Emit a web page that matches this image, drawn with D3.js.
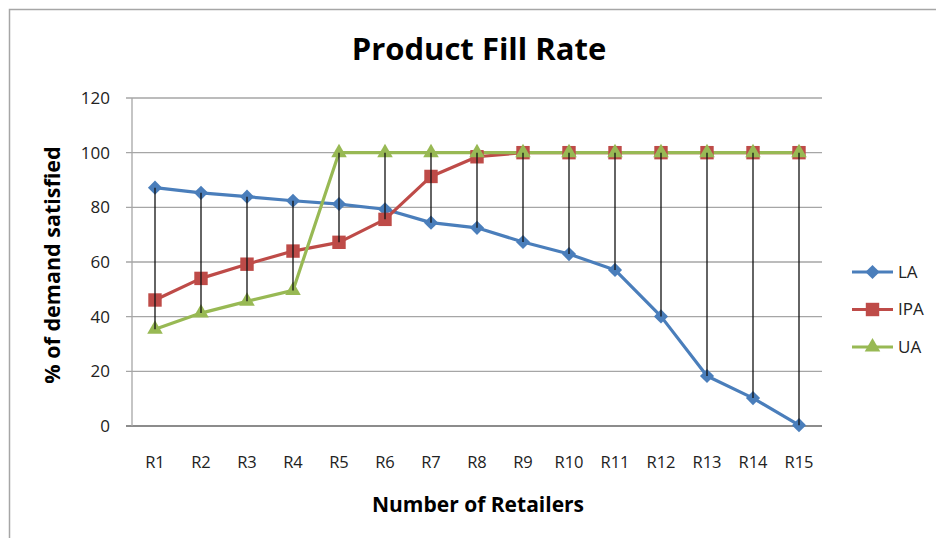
<!DOCTYPE html>
<html>
<head>
<meta charset="utf-8">
<script src="https://cdn.jsdelivr.net/npm/d3@7"></script>
<style>
  body { margin: 0; background: #fff; }
  svg { display: block; font-family: "Open Sans", Lato, sans-serif; }
</style>
</head>
<body>
<div id="chart"></div>
<script>
// data
const retailers = ['R1', 'R2', 'R3', 'R4', 'R5', 'R6', 'R7', 'R8', 'R9', 'R10', 'R11', 'R12', 'R13', 'R14', 'R15'];
const laValues = [87.2, 85.3, 83.9, 82.4, 81.2, 79.3, 74.4, 72.5, 67.3, 62.9, 57.1, 40.1, 18.3, 10.2, 0.3];
const ipaValues = [46.1, 54, 59.2, 64, 67.2, 75.6, 91.3, 98.5, 100, 100, 100, 100, 100, 100, 100];
const uaValues = [35.4, 41.3, 45.6, 49.6, 100, 100, 100, 100, 100, 100, 100, 100, 100, 100, 100];
const yTicks = [0, 20, 40, 60, 80, 100, 120];

const series = [
  { name: 'LA', values: laValues, color: '#4a7ebb', marker: d3.symbolSquare, size: 100, rot: 45 },
  { name: 'IPA', values: ipaValues, color: '#be4b48', marker: d3.symbolSquare, size: 180, rot: 0 },
  { name: 'UA', values: uaValues, color: '#98b954', marker: d3.symbolTriangle, size: 105, rot: 0 }
];

const W = 936, H = 538;
const margin = { top: 98, right: 114, bottom: 112, left: 132 };
const width = W - margin.left - margin.right;
const height = H - margin.top - margin.bottom;

const svg = d3.select('#chart')
  .append('svg')
    .attr('width', W)
    .attr('height', H);

// chart frame (runs off the right and bottom edge)
svg.append('rect')
  .attr('x', 9.5).attr('y', 9.5)
  .attr('width', W + 20).attr('height', H + 20)
  .attr('fill', 'none')
  .attr('stroke', '#a6a6a6')
  .attr('stroke-width', 1.5);

const g = svg.append('g')
  .attr('transform', `translate(${margin.left},${margin.top})`);

const x = d3.scaleBand()
  .domain(retailers)
  .range([0, width]);

const y = d3.scaleLinear()
  .domain([0, 120])
  .range([height, 0]);

const cx = d => x(d) + x.bandwidth() / 2;

// gridlines
g.append('g')
  .selectAll('line')
  .data(yTicks)
  .join('line')
    .attr('x1', -6)
    .attr('x2', width)
    .attr('y1', d => y(d))
    .attr('y2', d => y(d))
    .attr('stroke', d => d === 0 ? '#8c8c8c' : '#a6a6a6')
    .attr('stroke-width', d => d === 0 ? 2 : 1.3);

// y axis line
g.append('line')
  .attr('x1', 0).attr('x2', 0)
  .attr('y1', 0).attr('y2', height)
  .attr('stroke', '#a6a6a6')
  .attr('stroke-width', 1.3);

// y tick labels
g.append('g')
  .selectAll('text')
  .data(yTicks)
  .join('text')
    .attr('x', -22)
    .attr('y', d => y(d))
    .attr('dy', '0.35em')
    .attr('text-anchor', 'end')
    .style('font-size', '17px')
    .attr('fill', '#222')
    .text(d => d);

// x tick labels
g.append('g')
  .selectAll('text')
  .data(retailers)
  .join('text')
    .attr('x', d => cx(d))
    .attr('y', height + 36)
    .attr('dy', '0.35em')
    .attr('text-anchor', 'middle')
    .style('font-size', '16.5px')
    .attr('fill', '#222')
    .text(d => d);

// series lines
const line = d3.line()
  .x((d, i) => cx(retailers[i]))
  .y(d => y(d));

series.forEach(s => {
  g.append('path')
    .datum(s.values)
    .attr('fill', 'none')
    .attr('stroke', s.color)
    .attr('stroke-width', 3.2)
    .attr('stroke-linejoin', 'round')
    .attr('d', line);
});

// markers
series.forEach(s => {
  g.append('g')
    .selectAll('path')
    .data(s.values)
    .join('path')
      .attr('transform', (d, i) => `translate(${cx(retailers[i])},${y(d)}) rotate(${s.rot})`)
      .attr('d', d3.symbol().type(s.marker).size(s.size))
      .attr('fill', s.color);
});

// high-low lines
g.append('g')
  .selectAll('line')
  .data(retailers)
  .join('line')
    .attr('x1', d => cx(d))
    .attr('x2', d => cx(d))
    .attr('y1', (d, i) => y(d3.max(series, s => s.values[i])))
    .attr('y2', (d, i) => y(d3.min(series, s => s.values[i])))
    .attr('stroke', '#111')
    .attr('stroke-width', 1.3);

// legend
const legend = svg.append('g')
  .attr('transform', 'translate(852,272)');

series.forEach((s, i) => {
  const row = legend.append('g')
    .attr('transform', `translate(0,${i * 37.5})`);
  row.append('line')
    .attr('x1', 0).attr('x2', 41)
    .attr('stroke', s.color)
    .attr('stroke-width', 3.2);
  row.append('path')
    .attr('transform', `translate(20.5,0) rotate(${s.rot})`)
    .attr('d', d3.symbol().type(s.marker).size(s.size))
    .attr('fill', s.color);
  row.append('text')
    .attr('x', 46)
    .attr('dy', '0.35em')
    .style('font-size', '17px')
    .attr('fill', '#222')
    .text(s.name);
});

// titles
svg.append('text')
  .attr('x', 479)
  .attr('y', 60)
  .attr('text-anchor', 'middle')
  .style('font-size', '31px')
  .style('font-weight', 'bold')
  .text('Product Fill Rate');

svg.append('text')
  .attr('x', 478)
  .attr('y', 512)
  .attr('text-anchor', 'middle')
  .style('font-size', '21px')
  .style('font-weight', 'bold')
  .text('Number of Retailers');

svg.append('text')
  .attr('transform', 'translate(60,265) rotate(-90)')
  .attr('text-anchor', 'middle')
  .style('font-size', '21.5px')
  .style('font-weight', 'bold')
  .text('% of demand satisfied');
</script>
</body>
</html>
